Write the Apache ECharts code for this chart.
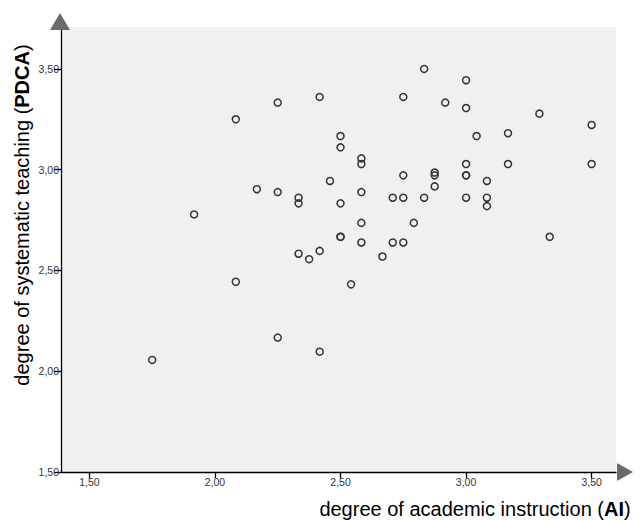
<!DOCTYPE html>
<html>
<head>
<meta charset="utf-8">
<script src="https://cdn.jsdelivr.net/npm/echarts@6/dist/echarts.min.js"></script>
<style>
html,body{margin:0;padding:0;background:#fff;}
#chart{width:641px;height:521px;}
</style>
</head>
<body>
<div id="chart"></div>
<script>
// degree of academic instruction (AI)
var aiValues = [
  2.083, 2.250, 2.417, 2.500, 2.500, 2.458, 2.167, 2.250, 2.333, 2.333,
  1.917, 2.500, 2.500, 2.500, 2.833, 3.000, 2.750, 2.917, 3.000, 3.292,
  3.500, 2.583, 2.583, 3.042, 3.167, 3.000, 3.167, 3.500, 2.750, 2.875,
  2.875, 3.000, 3.000, 3.083, 2.875, 2.583, 2.708, 2.750, 2.833, 3.000,
  3.083, 3.083, 2.583, 2.792, 3.333, 2.583, 2.708, 2.750, 2.667, 2.542,
  2.333, 2.375, 2.417, 2.083, 2.250, 2.417, 1.750
];
// degree of systematic teaching (PDCA)
var pdcaValues = [
  3.250, 3.333, 3.361, 3.167, 3.111, 2.944, 2.903, 2.889, 2.861, 2.833,
  2.778, 2.833, 2.667, 2.667, 3.500, 3.444, 3.361, 3.333, 3.306, 3.278,
  3.222, 3.056, 3.028, 3.167, 3.181, 3.028, 3.028, 3.028, 2.972, 2.986,
  2.972, 2.972, 2.972, 2.944, 2.917, 2.889, 2.861, 2.861, 2.861, 2.861,
  2.861, 2.819, 2.736, 2.736, 2.667, 2.639, 2.639, 2.639, 2.569, 2.431,
  2.583, 2.556, 2.597, 2.444, 2.167, 2.097, 2.056
];
var xTicks = [1.5, 2.0, 2.5, 3.0, 3.5];
var yTicks = [1.5, 2.0, 2.5, 3.0, 3.5];
var xTitle = 'degree of academic instruction (';
var xTitleBold = 'AI';
var yTitle = 'degree of systematic teaching (';
var yTitleBold = 'PDCA';

var points = aiValues.map(function (v, i) { return [v, pdcaValues[i]]; });
function fmt(v) { return v.toFixed(2).replace('.', ','); }

var chart = echarts.init(document.getElementById('chart'), null, {renderer: 'svg'});
var font = '"Liberation Sans", Arial, sans-serif';
var option = {
  animation: false,
  backgroundColor: '#ffffff',
  grid: {
    left: 61, top: 27, right: 25, bottom: 49,
    show: true, backgroundColor: '#f0f0f0', borderWidth: 0
  },
  xAxis: {
    type: 'value', min: 1.387, max: 3.597,
    splitLine: {show: false},
    axisLine: {show: true, onZero: false, lineStyle: {color: '#000', width: 1.3}},
    axisTick: {show: true, customValues: xTicks, length: 6, lineStyle: {color: '#000', width: 1.3}},
    axisLabel: {customValues: xTicks, formatter: fmt, margin: 4, color: '#333', fontSize: 10.5, fontFamily: font}
  },
  yAxis: {
    type: 'value', min: 1.5, max: 3.708,
    splitLine: {show: false},
    axisLine: {show: true, onZero: false, lineStyle: {color: '#000', width: 1.3}},
    axisTick: {show: true, customValues: yTicks, length: 7, lineStyle: {color: '#000', width: 1.3}},
    axisLabel: {customValues: yTicks, formatter: fmt, margin: 2, color: '#333', fontSize: 10.5, fontFamily: font}
  },
  series: [{
    type: 'scatter',
    data: points,
    symbol: 'circle',
    symbolSize: 7,
    itemStyle: {color: 'rgba(0,0,0,0)', borderColor: '#333', borderWidth: 1.5, opacity: 1}
  }],
  graphic: [
    {type: 'polygon', shape: {points: [[60, 13], [50, 30], [70, 30]]}, style: {fill: '#6b6b6b'}, z: 10},
    {type: 'polygon', shape: {points: [[633, 472], [617, 463], [617, 481]]}, style: {fill: '#6b6b6b'}, z: 10},
    {
      type: 'text', x: 22, y: 215, rotation: Math.PI / 2,
      style: {
        text: '{a|' + yTitle + '}{b|' + yTitleBold + '}{a|)}',
        align: 'center', verticalAlign: 'middle',
        rich: {
          a: {fontSize: 20, fontFamily: font, fill: '#000'},
          b: {fontSize: 20, fontFamily: font, fontWeight: 'bold', fill: '#000'}
        }
      }
    },
    {
      type: 'text', x: 475, y: 509,
      style: {
        text: '{a|' + xTitle + '}{b|' + xTitleBold + '}{a|)}',
        align: 'center', verticalAlign: 'middle',
        rich: {
          a: {fontSize: 20, fontFamily: font, fill: '#000'},
          b: {fontSize: 20, fontFamily: font, fontWeight: 'bold', fill: '#000'}
        }
      }
    }
  ]
};
chart.setOption(option);
</script>
</body>
</html>
